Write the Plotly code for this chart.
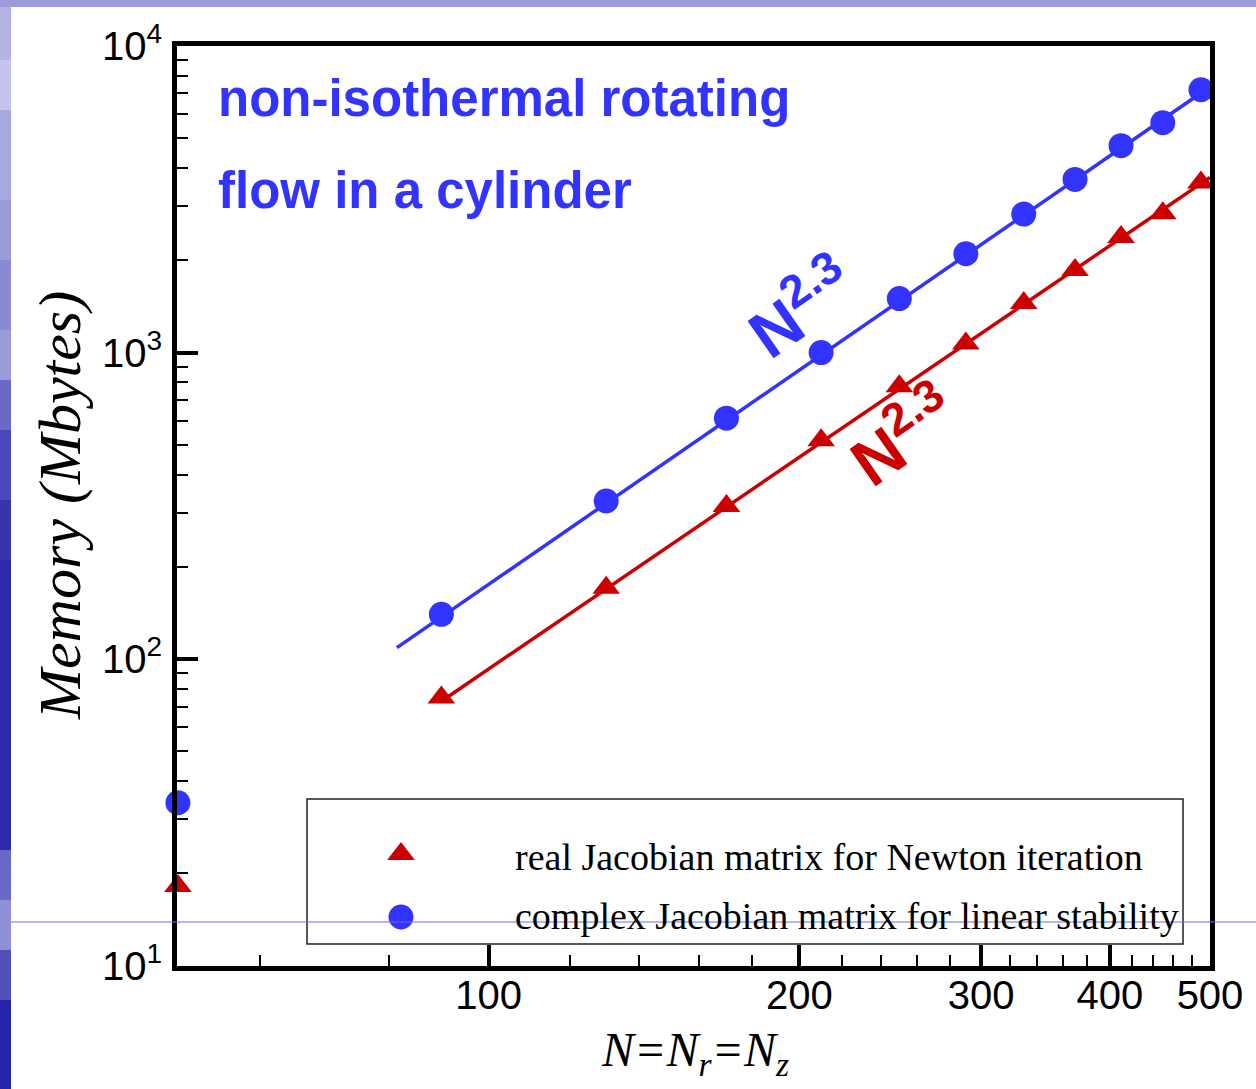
import math
import plotly.graph_objects as go

# ---------------- data ----------------
N_vals = [50, 90, 130, 170, 210, 250, 290, 330, 370, 410, 450, 490]
mem_complex = [34, 140, 328, 611, 1000, 1500, 2100, 2830, 3670, 4730, 5620, 7200]
mem_real = [18.2, 75, 171, 316, 518, 776, 1070, 1450, 1860, 2380, 2850, 3590]

fit_complex_x = [81.5, 500]
fit_complex_y = [109, 7360]
fit_real_x = [89.8, 500]
fit_real_y = [72.5, 3727]

x_tickvals = [100, 200, 300, 400, 500]
x_ticktext = ["100", "200", "300", "400", "500"]
x_minor = [60, 80, 120, 140, 160, 180, 220, 240, 260, 280, 320, 340, 360, 380, 420, 440, 460, 480]
y_tickvals = [10, 100, 1000, 10000]
y_ticktext = ["10<sup>1</sup>", "10<sup>2</sup>", "10<sup>3</sup>", "10<sup>4</sup>"]
y_minor = [m * d for d in (10, 100, 1000) for m in range(2, 10)]

legend_labels = ["real Jacobian matrix for Newton iteration",
                 "complex Jacobian matrix for linear stability"]
title_lines = ["non-isothermal rotating", "flow in a cylinder"]

BLUE = "#3333ff"
RED = "#cc0000"

# ---------------- layout geometry ----------------
WIDTH, HEIGHT = 1256, 1089
L, R, T, B = 177, 46, 46, 123
PW = WIDTH - L - R
PH = HEIGHT - T - B
PB = HEIGHT - B


def X(px):
    return (px - L) / PW


def Y(py):
    return (PB - py) / PH


fig = go.Figure()

# fit lines
fig.add_trace(go.Scatter(x=fit_complex_x, y=fit_complex_y, mode="lines",
                         line=dict(color=BLUE, width=3.5), showlegend=False,
                         cliponaxis=False))
fig.add_trace(go.Scatter(x=fit_real_x, y=fit_real_y, mode="lines",
                         line=dict(color=RED, width=3.5), showlegend=False,
                         cliponaxis=False))
# data markers
fig.add_trace(go.Scatter(x=N_vals, y=mem_real, mode="markers",
                         marker=dict(symbol="triangle-up", size=24, color=RED),
                         showlegend=False, cliponaxis=False))
fig.add_trace(go.Scatter(x=N_vals, y=mem_complex, mode="markers",
                         marker=dict(symbol="circle", size=25, color=BLUE),
                         showlegend=False, cliponaxis=False))

# legend markers (overlay axes in plot-fraction coordinates)
fig.add_trace(go.Scatter(x=[X(401)], y=[Y(854)], mode="markers", xaxis="x2", yaxis="y2",
                         marker=dict(symbol="triangle-up", size=24, color=RED),
                         showlegend=False, cliponaxis=False))
fig.add_trace(go.Scatter(x=[X(401)], y=[Y(917)], mode="markers", xaxis="x2", yaxis="y2",
                         marker=dict(symbol="circle", size=25, color=BLUE),
                         showlegend=False, cliponaxis=False))

shapes = []
# slide decoration: top strip
shapes.append(dict(type="rect", xref="paper", yref="paper", x0=X(0), x1=X(WIDTH),
                   y0=Y(0), y1=Y(7), fillcolor="#9c9cda", line=dict(width=0), layer="below"))
# left strip gradient bands
bands = [(7, 60, "#b4b4e4"), (60, 110, "#c4c4ec"), (110, 200, "#a8a8e0"),
         (200, 260, "#9a9ad8"), (260, 330, "#8a8ad2"), (330, 380, "#9c9cda"),
         (380, 430, "#6a6ac6"), (430, 500, "#4848b8"), (500, 560, "#3535ae"),
         (560, 850, "#2a2aaa"), (850, 900, "#6868c6"), (900, 950, "#9090d6"),
         (950, 1000, "#5050b8"), (1000, 1089, "#2424a6")]
for y0, y1, c in bands:
    shapes.append(dict(type="rect", xref="paper", yref="paper", x0=X(0), x1=X(11),
                       y0=Y(y1), y1=Y(y0), fillcolor=c, line=dict(width=0), layer="below"))
# thin horizontal slide line
shapes.append(dict(type="line", xref="paper", yref="paper", x0=X(11), x1=X(WIDTH),
                   y0=Y(922), y1=Y(922), line=dict(color="#6e6ede", width=1), layer="above"))
# legend box
shapes.append(dict(type="rect", xref="paper", yref="paper", x0=X(307), x1=X(1183),
                   y0=Y(944), y1=Y(799), line=dict(color="#222222", width=1.5),
                   fillcolor="rgba(0,0,0,0)", layer="below"))

serif = "Liberation Serif, Times New Roman, serif"
sans = "Liberation Sans, Arial, sans-serif"

annotations = []
annotations.append(dict(text=title_lines[0], xref="paper", yref="paper", x=X(216), y=Y(98),
                        xanchor="left", yanchor="middle", showarrow=False,
                        font=dict(family=sans, size=51, color=BLUE, weight="bold")))
annotations.append(dict(text=title_lines[1], xref="paper", yref="paper", x=X(216), y=Y(190),
                        xanchor="left", yanchor="middle", showarrow=False,
                        font=dict(family=sans, size=51, color=BLUE, weight="bold")))
annotations.append(dict(text="N<sup>2.3</sup>", xref="paper", yref="paper", x=X(800), y=Y(306),
                        xanchor="center", yanchor="middle", showarrow=False, textangle=-35,
                        font=dict(family=sans, size=66, color=BLUE, weight="bold")))
annotations.append(dict(text="N<sup>2.3</sup>", xref="paper", yref="paper", x=X(902), y=Y(434),
                        xanchor="center", yanchor="middle", showarrow=False, textangle=-35,
                        font=dict(family=sans, size=66, color=RED, weight="bold")))
annotations.append(dict(text=legend_labels[0], xref="paper", yref="paper", x=X(513), y=Y(857),
                        xanchor="left", yanchor="middle", showarrow=False,
                        font=dict(family=serif, size=38, color="black")))
annotations.append(dict(text=legend_labels[1], xref="paper", yref="paper", x=X(513), y=Y(916),
                        xanchor="left", yanchor="middle", showarrow=False,
                        font=dict(family=serif, size=38, color="black")))
annotations.append(dict(text="Memory (Mbytes)", xref="paper", yref="paper", x=X(60), y=Y(506),
                        xanchor="center", yanchor="middle", showarrow=False, textangle=-90,
                        font=dict(family=serif, size=60, color="black", style="italic")))
annotations.append(dict(text="N=N<sub>r</sub>=N<sub>z</sub>", xref="paper", yref="paper",
                        x=X(695), y=Y(1053), xanchor="center", yanchor="middle", showarrow=False,
                        font=dict(family=serif, size=48, color="black", style="italic")))

fig.update_layout(
    width=WIDTH, height=HEIGHT,
    margin=dict(l=L, r=R, t=T, b=B, pad=0),
    paper_bgcolor="white", plot_bgcolor="white",
    showlegend=False,
    shapes=shapes, annotations=annotations,
    xaxis=dict(type="log", range=[math.log10(49.9), math.log10(500)],
               tickmode="array", tickvals=x_tickvals, ticktext=x_ticktext,
               ticks="inside", ticklen=21, tickwidth=3.5, tickcolor="black",
               showline=True, linewidth=5, linecolor="black", mirror=True,
               showgrid=False, zeroline=False, ticklabelstandoff=-10,
               tickfont=dict(family=sans, size=40, color="black"),
               minor=dict(tickmode="array", tickvals=x_minor, ticks="inside",
                          ticklen=11, tickwidth=1.5, tickcolor="black", showgrid=False)),
    yaxis=dict(type="log", range=[0.999, 4],
               tickmode="array", tickvals=y_tickvals, ticktext=y_ticktext,
               ticks="inside", ticklen=21, tickwidth=3.5, tickcolor="black",
               showline=True, linewidth=5, linecolor="black", mirror=True,
               showgrid=False, zeroline=False, ticklabelstandoff=2,
               tickfont=dict(family=sans, size=40, color="black"),
               minor=dict(tickmode="array", tickvals=y_minor, ticks="inside",
                          ticklen=11, tickwidth=1.5, tickcolor="black", showgrid=False)),
    xaxis2=dict(overlaying="x", range=[0, 1], visible=False, fixedrange=True),
    yaxis2=dict(overlaying="y", range=[0, 1], visible=False, fixedrange=True),
)

fig.write_html("out.html")
